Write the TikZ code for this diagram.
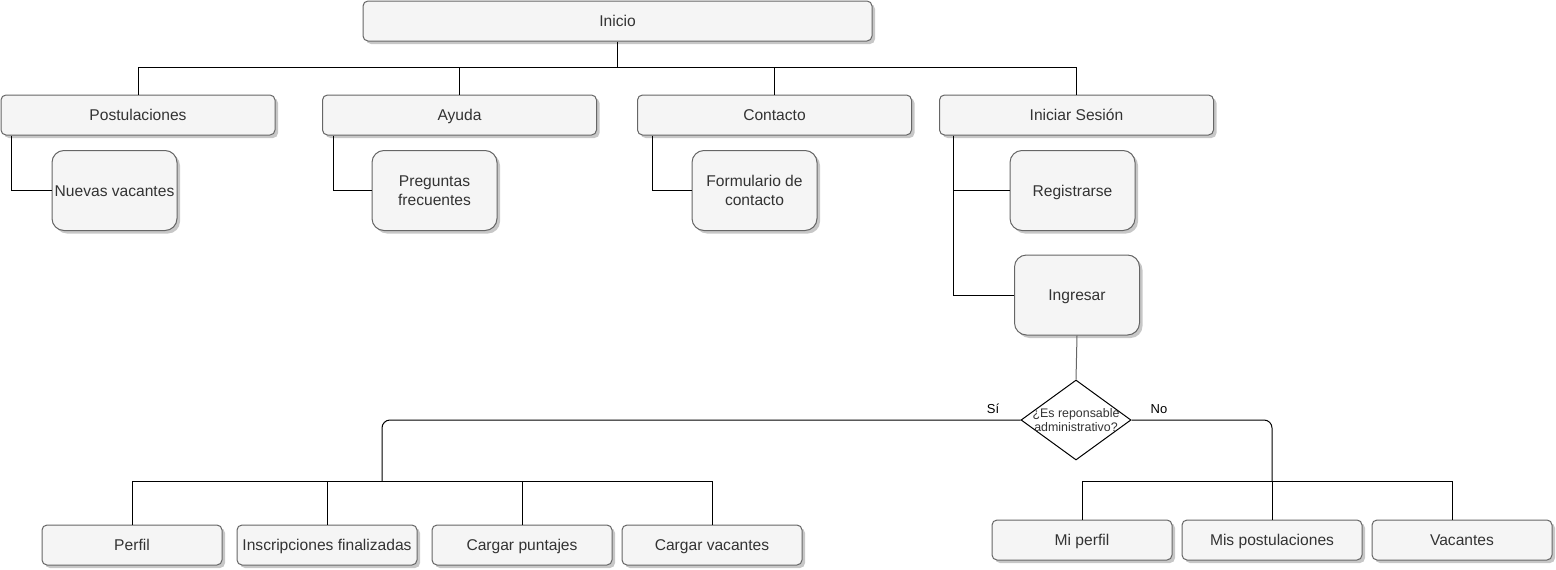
\documentclass[tikz,border=0pt]{standalone}
\usepackage{fontspec}
\setmainfont{Liberation Sans}
\usetikzlibrary{shapes.geometric,shadows}
\definecolor{boxfill}{HTML}{F5F5F5}
\definecolor{boxline}{HTML}{666666}
\definecolor{boxtext}{HTML}{333333}
\begin{document}
\begin{tikzpicture}[x=1pt,y=-1pt,
  base/.style={draw=boxline,fill=boxfill,text=boxtext,line width=1pt,inner xsep=1pt,
    font=\fontsize{15.6}{19.5}\selectfont,align=center,
    drop shadow={shadow xshift=3pt,shadow yshift=-3pt,opacity=0.22,fill=black}},
  oneline/.style={text height=11.2pt,text depth=0pt},
  wide/.style={base,oneline,rectangle,rounded corners=5pt,minimum width=274pt,minimum height=40pt},
  small/.style={base,oneline,rectangle,rounded corners=5pt,minimum width=180pt,minimum height=40pt},
  tall/.style={base,rectangle,rounded corners=12pt,minimum width=125pt,minimum height=80pt},
  conn/.style={line width=1pt,black},
  lbl/.style={font=\fontsize{13}{15}\selectfont,text=black,inner sep=0pt}
]
\useasboundingbox (0,0) rectangle (1556,570);

% top
\node[base,oneline,rectangle,rounded corners=5pt,minimum width=509pt,minimum height=40pt] (inicio) at (617.5,21) {Inicio};
\node[wide] (post) at (138,115) {Postulaciones};
\node[wide] (ayuda) at (459.5,115) {Ayuda};
\node[wide] (cont) at (774.5,115) {Contacto};
\node[wide] (ses) at (1076.5,115) {Iniciar Sesión};

\node[tall,oneline] (nuevas) at (114.5,190.5) {Nuevas vacantes};
\node[tall] (preg) at (434.5,190.5) {Preguntas\\frecuentes};
\node[tall] (form) at (754.5,190.5) {Formulario de\\contacto};
\node[tall,oneline] (reg) at (1072.5,190.5) {Registrarse};
\node[tall,oneline] (ing) at (1077,295) {Ingresar};

\node[draw=black,fill=white,line width=1pt,shape=diamond,minimum width=110pt,minimum height=80pt,inner sep=0pt,
  label={[font=\fontsize{12.4}{14}\selectfont,text=boxtext,align=center]center:¿Es reponsable\\administrativo?}] (dec) at (1076,420) {};

\node[small] (perfil) at (132,545) {Perfil};
\node[small] (insc) at (327,545) {Inscripciones finalizadas};
\node[small] (punt) at (522,545) {Cargar puntajes};
\node[small] (cvac) at (712,545) {Cargar vacantes};

\node[small] (miperf) at (1082,540) {Mi perfil};
\node[small] (mispost) at (1272,540) {Mis postulaciones};
\node[small] (vac) at (1462,540) {Vacantes};

\node[lbl] (si) at (993,409) {Sí};
\node[lbl] (no) at (1159,409) {No};

% connectors top
\coordinate (busT) at (617.5,67);
\draw[conn] (inicio.south) -- (busT);
\draw[conn] (post.north) |- (busT);
\draw[conn] (ayuda.north) |- (busT);
\draw[conn] (cont.north) |- (busT);
\draw[conn] (ses.north) |- (busT);

\draw[conn] ([xshift=11pt]post.south west) |- (nuevas.west);
\draw[conn] ([xshift=11pt]ayuda.south west) |- (preg.west);
\draw[conn] ([xshift=15pt]cont.south west) |- (form.west);
\draw[conn] ([xshift=14pt]ses.south west) |- (reg.west);
\draw[conn] ([xshift=14pt]ses.south west) |- (ing.west);

\draw[line width=1pt,black!60] (ing.south) -- (dec.north);

% decision branches
\coordinate (sL) at (382,481);
\coordinate (sR) at (1272,481);
\draw[conn,rounded corners=8pt] (dec.west) -| (sL);
\draw[conn,rounded corners=8pt] (dec.east) -| (sR);
\draw[conn] (perfil.north) |- (sL);
\draw[conn] (insc.north) |- (sL);
\draw[conn] (punt.north) |- (sL);
\draw[conn] (cvac.north) |- (sL);
\draw[conn] (miperf.north) |- (sR);
\draw[conn] (mispost.north) -- (sR);
\draw[conn] ([xshift=-10pt]vac.north) |- (sR);
\end{tikzpicture}
\end{document}
